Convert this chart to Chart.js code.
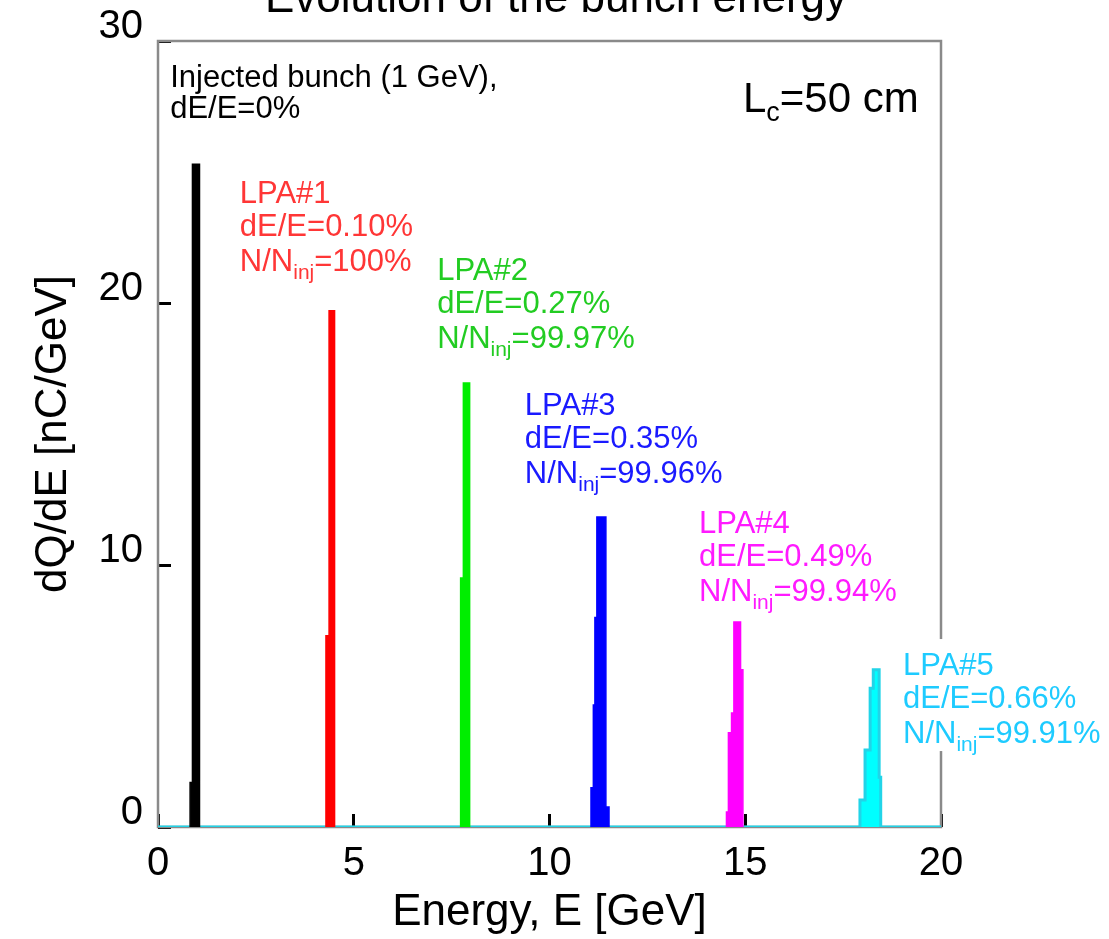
<!DOCTYPE html>
<html>
<head>
<meta charset="utf-8">
<script src="https://cdn.jsdelivr.net/npm/chart.js@4/dist/chart.umd.min.js"></script>
<style>
html, body { margin: 0; padding: 0; background: #fff; }
#wrap { width: 1109px; height: 939px; }
</style>
</head>
<body>
<div id="wrap"><canvas id="myChart" width="1109" height="939"></canvas></div>
<script>
// bin edges (GeV) and dQ/dE (nC/GeV), one pair per bunch
var injE = [0.82, 0.82, 0.88, 1.06];
var injQ = [0, 1.7, 25.3, 0];
var lpa1E = [4.29, 4.29, 4.37, 4.51];
var lpa1Q = [0, 7.3, 19.7, 0];
var lpa2E = [7.73, 7.73, 7.80, 7.96];
var lpa2Q = [0, 9.5, 16.95, 0];
var lpa3E = [11.06, 11.06, 11.12, 11.16, 11.21, 11.44, 11.52];
var lpa3Q = [0, 1.5, 4.66, 8.0, 11.83, 0.76, 0];
var lpa4E = [14.52, 14.52, 14.57, 14.65, 14.71, 14.88, 14.94];
var lpa4Q = [0, 0.57, 3.6, 4.35, 7.82, 6.0, 0];
var lpa5E = [0, 17.93, 18.06, 18.19, 18.27, 18.42, 18.46, 20];
var lpa5Q = [0, 1.03, 2.94, 5.3, 6.0, 1.9, 0, 0];

var xTicks = [0, 5, 10, 15, 20];
var yTicks = [0, 10, 20, 30];

// text of the labels
var lpaNames = ['LPA#1', 'LPA#2', 'LPA#3', 'LPA#4', 'LPA#5'];
var lpaSpread = ['0.10', '0.27', '0.35', '0.49', '0.66'];
var lpaSurvival = ['100', '99.97', '99.96', '99.94', '99.91'];
var lpaTextE = [2.09, 7.13, 9.37, 13.82, 19.03];
var lpaTextQ = [23.82, 20.88, 15.73, 11.22, 5.80];
var lpaTextColors = ['#ff3636', '#22cc22', '#1a1aff', '#ff1aff', '#1ecbff'];

function pts(xs, ys) {
  var out = [];
  for (var i = 0; i < xs.length; i++) out.push({x: xs[i], y: ys[i]});
  return out;
}

function peak(label, xs, ys, line, fill, width) {
  return {
    label: label,
    data: pts(xs, ys),
    borderColor: line,
    backgroundColor: fill,
    borderWidth: width || 1.5,
    fill: 'origin',
    stepped: 'before',
    pointRadius: 0
  };
}

var FONT = '"Liberation Sans", Arial, sans-serif';

function subText(ctx, x, y, size, parts) {
  // parts: [text, sub, text]
  ctx.font = size + 'px ' + FONT;
  ctx.fillText(parts[0], x, y);
  x += ctx.measureText(parts[0]).width;
  ctx.font = Math.round(size * 0.68) + 'px ' + FONT;
  ctx.fillText(parts[1], x, y + 8);
  x += ctx.measureText(parts[1]).width;
  ctx.font = size + 'px ' + FONT;
  ctx.fillText(parts[2], x, y);
}

var notesPlugin = {
  id: 'notes',
  beforeDatasetsDraw: function (chart) {
    var ctx = chart.ctx, a = chart.chartArea;
    ctx.save();
    ctx.strokeStyle = '#8a8a8a';
    ctx.lineWidth = 2.5;
    ctx.strokeRect(a.left, a.top, a.right - a.left, a.bottom - a.top);
    ctx.restore();
  },
  afterDraw: function (chart) {
    var ctx = chart.ctx;
    var xs = chart.scales.x, ys = chart.scales.y;
    ctx.save();
    ctx.textBaseline = 'alphabetic';
    ctx.textAlign = 'left';

    // title, cut by the top edge
    ctx.fillStyle = '#000';
    ctx.font = '44px ' + FONT;
    ctx.textAlign = 'center';
    ctx.fillText('Evolution of the bunch energy', 556, 12);
    ctx.textAlign = 'left';

    var px = xs.getPixelForValue(0.31), py = ys.getPixelForValue(28.24);
    ctx.font = '31px ' + FONT;
    ctx.fillText('Injected bunch (1 GeV),', px, py);
    ctx.fillText('dE/E=0%', px, py + 31);

    px = xs.getPixelForValue(14.94);
    py = ys.getPixelForValue(27.29);
    ctx.font = '42px ' + FONT;
    ctx.fillText('L', px, py);
    var w = ctx.measureText('L').width;
    ctx.font = '27px ' + FONT;
    ctx.fillText('c', px + w, py + 9);
    w += ctx.measureText('c').width;
    ctx.font = '42px ' + FONT;
    ctx.fillText('=50 cm', px + w, py);

    for (var i = 0; i < lpaNames.length; i++) {
      px = xs.getPixelForValue(lpaTextE[i]);
      py = ys.getPixelForValue(lpaTextQ[i]);
      if (i === lpaNames.length - 1) {
        ctx.fillStyle = '#fff';
        ctx.fillRect(px - 4, py - 36, 1109 - px + 4, 112);
      }
      ctx.fillStyle = lpaTextColors[i];
      ctx.font = '31px ' + FONT;
      ctx.fillText(lpaNames[i], px, py);
      ctx.fillText('dE/E=' + lpaSpread[i] + '%', px, py + 33);
      subText(ctx, px, py + 68, 31, ['N/N', 'inj', '=' + lpaSurvival[i] + '%']);
    }
    ctx.restore();
  }
};

var ctx = document.getElementById('myChart').getContext('2d');
var myChart = new Chart(ctx, {
  type: 'line',
  data: {
    datasets: [
      peak('Injected', injE, injQ, '#000000', '#000000'),
      peak('LPA#1', lpa1E, lpa1Q, '#ff0000', '#ff0000'),
      peak('LPA#2', lpa2E, lpa2Q, '#00ee00', '#00ee00'),
      peak('LPA#3', lpa3E, lpa3Q, '#0000ff', '#0000ff'),
      peak('LPA#4', lpa4E, lpa4Q, '#ff00ff', '#ff00ff'),
      peak('LPA#5', lpa5E, lpa5Q, '#22d4e8', '#00ffff', 3)
    ]
  },
  options: {
    responsive: false,
    animation: false,
    layout: { padding: { top: 41, right: 168, left: 0, bottom: 0 } },
    plugins: { legend: { display: false }, tooltip: { enabled: false } },
    scales: {
      x: {
        type: 'linear',
        min: 0, max: 20,
        afterFit: function (s) { s.height = 112; s.paddingLeft = 0; s.paddingRight = 0; },
        afterBuildTicks: function (s) { s.ticks = xTicks.map(function (v) { return {value: v}; }); },
        border: { display: false },
        grid: { drawOnChartArea: false, drawTicks: true, tickLength: -13, color: '#000', lineWidth: 3 },
        ticks: { color: '#000', padding: 26, maxRotation: 0, font: { family: FONT, size: 40 } },
        title: { display: true, text: 'Energy, E [GeV]', color: '#000', padding: { top: 0, bottom: 0 }, font: { family: FONT, size: 44 } }
      },
      y: {
        min: 0, max: 30,
        afterFit: function (s) { s.width = 158; s.paddingTop = 0; s.paddingBottom = 0; },
        afterBuildTicks: function (s) { s.ticks = yTicks.map(function (v) { return {value: v}; }); },
        border: { display: false },
        grid: { drawOnChartArea: false, drawTicks: true, tickLength: -13, color: '#000', lineWidth: 3 },
        ticks: { color: '#000', padding: 28, labelOffset: -14, font: { family: FONT, size: 40 } },
        title: { display: true, text: 'dQ/dE [nC/GeV]', color: '#000', padding: { top: 27, bottom: 0 }, font: { family: FONT, size: 44 } }
      }
    }
  },
  plugins: [notesPlugin]
});
</script>
</body>
</html>
